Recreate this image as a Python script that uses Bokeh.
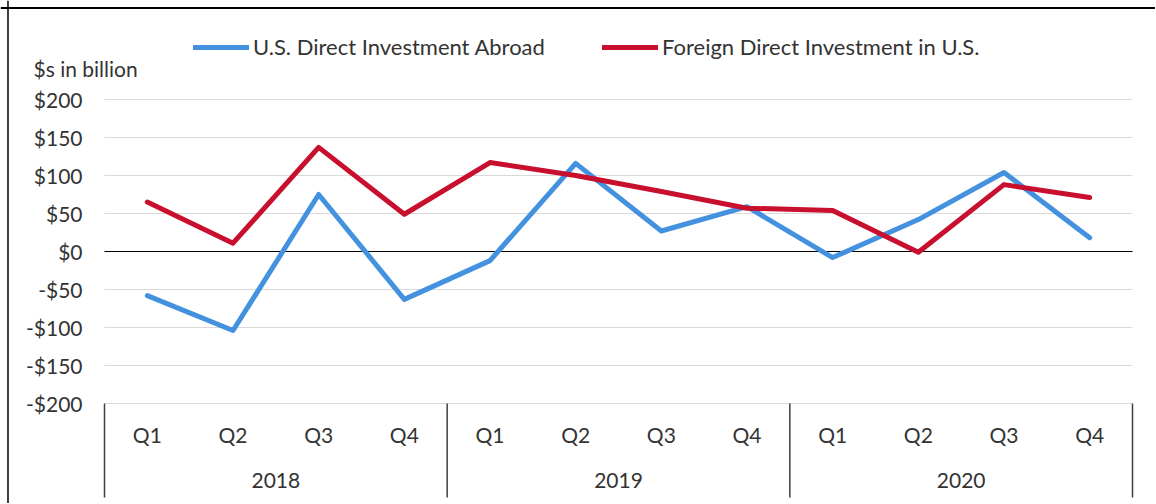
from bokeh.plotting import figure
from bokeh.models import (Range1d, LinearAxis, FixedTicker, Span,
                          Legend, LegendItem, Label, ColumnDataSource)
from bokeh.embed import file_html
from bokeh.resources import INLINE

# ---- data ----
years = ["2018", "2019", "2020"]
quarters = ["Q1", "Q2", "Q3", "Q4"]
us_direct_abroad = [-58, -104, 75, -63, -12, 116, 27, 59, -8, 42, 104, 18]
foreign_direct_us = [65, 11, 137, 49, 117, 100, 79, 57, 54, -1, 88, 71]
series_names = ["U.S. Direct Investment Abroad", "Foreign Direct Investment in U.S."]
y_ticks = [-200, -150, -100, -50, 0, 50, 100, 150, 200]
y_tick_labels = ["-$200", "-$150", "-$100", "-$50", "$0", "$50", "$100", "$150", "$200"]
y_title = "$s in billion"

FONT = "Lato"
TXT = "#333333"
BLUE = "#4391DF"
RED = "#C8102E"

# category positions (one slot per quarter, grouped by year)
nq = len(quarters)
factors = [(y, q) for y in years for q in quarters]
xpos = list(range(len(factors)))
q_labels = {i: f[1] for i, f in enumerate(factors)}
year_centers = [k * nq + (nq - 1) / 2 for k in range(len(years))]
year_labels = {c: y for c, y in zip(year_centers, years)}
boundaries = [k * nq - 0.5 for k in range(len(years) + 1)]
x_lo, x_hi = boundaries[0], boundaries[-1]

p = figure(width=1155, height=503,
           x_range=Range1d(-1.7140, 11.7685), y_range=Range1d(-331.58, 330.26),
           x_axis_location=None, y_axis_location=None,
           output_backend="svg", toolbar_location=None,
           min_border_left=0, min_border_right=0, min_border_top=0, min_border_bottom=0)
p.outline_line_color = None
p.background_fill_color = "white"
p.border_fill_color = "white"
p.grid.visible = False

# chart-area border (top and left edges of the picture)
p.add_layout(Span(location=320.4, dimension="width", line_color="black", line_width=2))
p.add_layout(Span(location=-1.6265, dimension="height", line_color="black", line_width=1.5))

# horizontal gridlines + zero line (span only the category area)
grid_src = ColumnDataSource(dict(y=y_ticks, x0=[x_lo] * len(y_ticks), x1=[x_hi] * len(y_ticks)))
p.segment(x0="x0", y0="y", x1="x1", y1="y", source=grid_src, line_color="#d9d9d9", line_width=1)
p.segment(x0=[x_lo], y0=[0], x1=[x_hi], y1=[0], line_color="black", line_width=1.2)

# y axis
yax = LinearAxis(fixed_location=x_lo, ticker=FixedTicker(ticks=y_ticks),
                 major_label_overrides={t: l for t, l in zip(y_ticks, y_tick_labels)})
yax.axis_line_color = None
yax.major_tick_line_color = None
yax.minor_tick_line_color = None
yax.major_tick_out = 0
yax.major_tick_in = 0
yax.major_label_standoff = 22
yax.major_label_text_font = FONT
yax.major_label_text_font_size = "21px"
yax.major_label_text_color = TXT
p.add_layout(yax, "left")

# x axes: quarters and years
def make_axis(ticks, labels, standoff):
    ax = LinearAxis(fixed_location=y_ticks[0], ticker=FixedTicker(ticks=ticks),
                    major_label_overrides=labels)
    ax.axis_line_color = None
    ax.major_tick_line_color = None
    ax.minor_tick_line_color = None
    ax.major_tick_out = 0
    ax.major_tick_in = 0
    ax.major_label_standoff = standoff
    ax.major_label_text_font = FONT
    ax.major_label_text_font_size = "21px"
    ax.major_label_text_color = TXT
    return ax

p.add_layout(make_axis(xpos, q_labels, 19), "below")
p.add_layout(make_axis(year_centers, year_labels, 70), "below")

# separators between years (down to the bottom of the category strip)
sep_src = ColumnDataSource(dict(x=boundaries, y0=[y_ticks[0]] * len(boundaries),
                                y1=[-323.7] * len(boundaries)))
p.segment(x0="x", y0="y0", x1="x", y1="y1", source=sep_src, line_color="#404040", line_width=1.5)

# series
src = ColumnDataSource(dict(x=xpos, a=us_direct_abroad, b=foreign_direct_us))
r_blue = p.line("x", "a", source=src, line_color=BLUE, line_width=5, line_cap="round", line_join="round")
r_red = p.line("x", "b", source=src, line_color=RED, line_width=5, line_cap="round", line_join="round")

def make_legend(name, r, loc):
    return Legend(items=[LegendItem(label=name, renderers=[r])], location=loc,
                  orientation="horizontal", padding=0, margin=0, spacing=0,
                  border_line_color=None, background_fill_alpha=0,
                  glyph_width=56, glyph_height=26, label_height=26, label_standoff=4,
                  label_text_font=FONT, label_text_font_size="22px", label_text_color=TXT)

# legend / caption offsets measured from the bottom-left of the frame
p.add_layout(make_legend(series_names[0], r_blue, (193, 443)))
p.add_layout(make_legend(series_names[1], r_red, (602, 443)))

p.add_layout(Label(x=33, y=435, x_units="screen", y_units="screen", text=y_title,
                   text_font=FONT, text_font_size="21px", text_color=TXT,
                   text_baseline="alphabetic"))

open("out.html", "w").write(file_html(p, INLINE))
